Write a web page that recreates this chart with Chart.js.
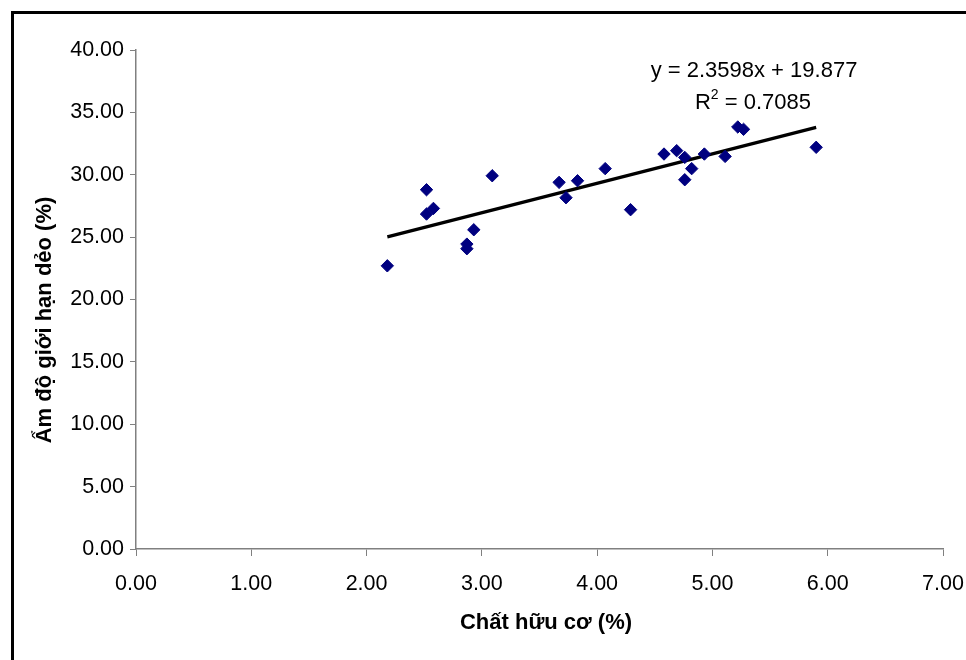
<!DOCTYPE html>
<html>
<head>
<meta charset="utf-8">
<script src="https://cdn.jsdelivr.net/npm/chart.js@4/dist/chart.umd.min.js"></script>
<style>
  body { margin: 0; background: #fff; overflow: hidden; }
  #frame { position: absolute; left: 11px; top: 11px; width: 1000px; height: 700px; border: 3px solid #000; }
  #wrap { position: absolute; left: 0; top: 0; width: 966px; height: 660px; }
</style>
</head>
<body>
<div id="frame"></div>
<div id="wrap"><canvas id="chart" width="966" height="660"></canvas></div>
<script>
// values
const organicMatter = [2.18, 2.52, 2.52, 2.58, 2.87, 2.87, 2.93, 3.09, 3.67, 3.73, 3.83, 4.07, 4.29, 4.58, 4.69, 4.76, 4.76, 4.82, 4.93, 5.11, 5.22, 5.27, 5.90];
const plasticLimit = [22.70, 28.80, 26.85, 27.30, 24.44, 24.07, 25.59, 29.92, 29.39, 28.16, 29.52, 30.49, 27.20, 31.66, 31.93, 31.39, 29.60, 30.49, 31.66, 31.47, 33.83, 33.64, 32.20];
const trendX = [2.18, 5.90];
const trendY = [25.02, 33.80];
const equationText = 'y = 2.3598x + 19.877';
const r2Value = '0.7085';
const xTitle = 'Chất hữu cơ (%)';
const yTitle = 'Ẩm độ giới hạn dẻo (%)';

const FONT = '"Liberation Sans", Arial, sans-serif';

// titles and trendline label
const textPlugin = {
    id: 'texts',
    afterDraw(chart) {
        const ctx = chart.ctx;
        const a = chart.chartArea;
        ctx.save();
        ctx.fillStyle = '#000';
        ctx.textAlign = 'center';
        ctx.textBaseline = 'middle';

        ctx.font = 'bold 22px ' + FONT;
        ctx.fillText(xTitle, a.left + 410, a.bottom + 74);

        ctx.save();
        ctx.translate(45, a.top + 270);
        ctx.rotate(-Math.PI / 2);
        ctx.fillText(yTitle, 0, 0);
        ctx.restore();

        // equation label
        ctx.font = '22px ' + FONT;
        ctx.fillText(equationText, a.left + 618, a.top + 21);

        const p1 = 'R', p2 = '2', p3 = ' = ' + r2Value;
        const w1 = ctx.measureText(p1).width;
        const w3 = ctx.measureText(p3).width;
        ctx.font = '14px ' + FONT;
        const w2 = ctx.measureText(p2).width;
        let x = a.left + 617 - (w1 + w2 + w3) / 2;
        const y = a.top + 53;
        ctx.textAlign = 'left';
        ctx.font = '22px ' + FONT;
        ctx.fillText(p1, x, y);
        ctx.font = '14px ' + FONT;
        ctx.fillText(p2, x + w1, y - 8);
        ctx.font = '22px ' + FONT;
        ctx.fillText(p3, x + w1 + w2, y);
        ctx.restore();
    }
};

const points = organicMatter.map((v, i) => ({ x: v, y: plasticLimit[i] }));
const trend = trendX.map((v, i) => ({ x: v, y: trendY[i] }));

new Chart(document.getElementById('chart'), {
    type: 'scatter',
    data: {
        datasets: [
            {
                label: 'data',
                data: points,
                pointStyle: 'rectRot',
                pointRadius: 6.2,
                pointHoverRadius: 6.2,
                backgroundColor: '#000080',
                borderColor: '#000080',
                borderWidth: 1,
                order: 1
            },
            {
                label: 'trend',
                type: 'line',
                data: trend,
                borderColor: '#000',
                borderWidth: 3.2,
                pointRadius: 0,
                fill: false,
                order: 2
            }
        ]
    },
    options: {
        responsive: false,
        animation: false,
        events: [],
        layout: { padding: { top: 50, right: 23, left: 0, bottom: 0 } },
        plugins: { legend: { display: false }, tooltip: { enabled: false } },
        scales: {
            x: {
                type: 'linear',
                min: 0,
                max: 7,
                afterFit(scale) { scale.height = 111; scale.paddingLeft = 0; scale.paddingRight = 0; },
                ticks: {
                    stepSize: 1,
                    color: '#000',
                    padding: 15,
                    maxRotation: 0,
                    font: { family: FONT, size: 21.5 },
                    callback: v => v.toFixed(2)
                },
                grid: { drawOnChartArea: false, color: '#808080', tickLength: 7 },
                border: { color: '#808080', width: 1.5 }
            },
            y: {
                min: 0,
                max: 40,
                afterFit(scale) { scale.width = 136; scale.paddingTop = 0; scale.paddingBottom = 0; },
                ticks: {
                    stepSize: 5,
                    color: '#000',
                    padding: 6,
                    font: { family: FONT, size: 21.5 },
                    callback: v => v.toFixed(2)
                },
                grid: { drawOnChartArea: false, color: '#808080', tickLength: 6 },
                border: { color: '#808080', width: 1.5 }
            }
        }
    },
    plugins: [textPlugin]
});
</script>
</body>
</html>
